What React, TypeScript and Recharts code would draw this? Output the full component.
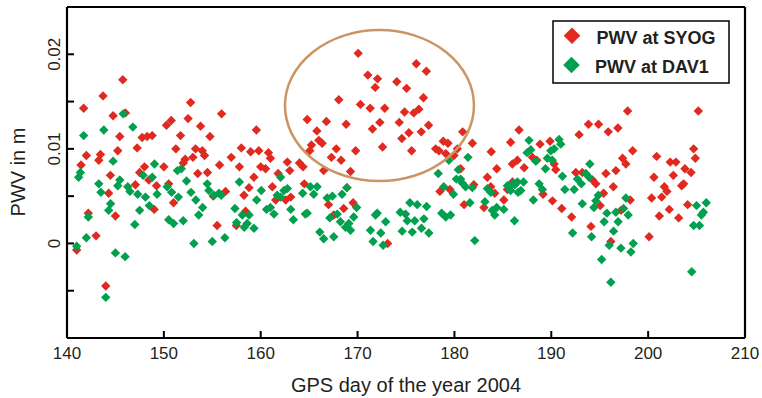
import React from 'react';
import {
  ScatterChart,
  Scatter,
  XAxis,
  YAxis,
  ReferenceLine,
  ReferenceDot,
  Customized,
} from 'recharts';

// [GPS day, PWV in m]
const SYOG_POINTS: [number, number][] = [
  [141.0, -0.0007], [142.2, 0.0032], [143.0, 0.0008], [144.0, -0.0045], [145.0, 0.0029],
  [144.3, 0.0053], [149.0, 0.0036], [151.0, 0.0043], [155.1, 0.005], [155.5, 0.0019],
  [145.76, 0.0173], [143.72, 0.0156], [141.72, 0.0143], [144.76, 0.0135], [146.03, 0.0138],
  [145.45, 0.0113], [147.76, 0.0112], [148.27, 0.0113], [148.79, 0.0114], [147.24, 0.0101],
  [145.24, 0.0098], [142.0, 0.0093], [143.45, 0.0094], [143.28, 0.0088], [141.45, 0.0083],
  [144.48, 0.0072], [148.0, 0.0081], [147.5, 0.0075], [150.27, 0.0125], [150.76, 0.013],
  [152.76, 0.0149], [152.5, 0.0132], [153.79, 0.0124], [151.72, 0.0114], [154.76, 0.0113],
  [151.24, 0.01], [153.27, 0.01], [153.96, 0.0098], [154.2, 0.0093], [153.0, 0.0091],
  [152.2, 0.0089], [152.0, 0.0085], [150.0, 0.0081], [153.5, 0.0074], [154.5, 0.0075],
  [155.75, 0.0083], [155.96, 0.0137], [156.96, 0.0091], [157.8, 0.0081], [158.0, 0.0101],
  [158.96, 0.0097], [159.8, 0.0098], [159.55, 0.012], [160.8, 0.0096], [161.0, 0.009],
  [160.0, 0.0081], [160.5, 0.0079], [159.3, 0.007], [161.8, 0.0074], [162.75, 0.0086],
  [163.0, 0.0077], [147.06, 0.0062], [148.45, 0.0067], [149.24, 0.0061], [150.5, 0.0063],
  [156.37, 0.0055], [158.27, 0.0051], [158.79, 0.0059], [157.48, 0.0019], [158.44, 0.0034],
  [161.2, 0.006], [163.1, 0.0049], [161.55, 0.0046], [162.58, 0.0046],
  [170.06, 0.0201], [176.06, 0.019], [177.1, 0.0182], [171.06, 0.0178], [172.06, 0.0174],
  [171.82, 0.0165], [174.05, 0.0171], [175.06, 0.0164], [168.06, 0.0152], [176.8, 0.0154],
  [170.3, 0.0147], [171.3, 0.0143], [172.8, 0.0143], [174.85, 0.0139], [175.8, 0.0138],
  [176.33, 0.0142], [164.8, 0.0131], [166.78, 0.0129], [168.82, 0.0126], [172.3, 0.0128],
  [174.3, 0.0128], [171.54, 0.0121], [177.33, 0.0125], [165.8, 0.0119], [175.3, 0.0117],
  [176.57, 0.0118], [174.57, 0.0111], [180.85, 0.0118], [166.0, 0.0109], [166.34, 0.0106],
  [165.24, 0.0104], [165.06, 0.0098], [167.8, 0.01], [169.8, 0.0098], [172.58, 0.0102],
  [175.58, 0.0098], [167.3, 0.0091], [168.3, 0.0088], [164.0, 0.0085], [164.37, 0.0081],
  [166.5, 0.0077], [169.27, 0.0076], [178.06, 0.01], [178.4, 0.0098], [178.85, 0.0108],
  [179.33, 0.0106], [179.1, 0.0095], [179.95, 0.0093], [180.3, 0.01], [181.85, 0.0106],
  [180.64, 0.0079], [183.8, 0.0097], [185.8, 0.0107], [186.67, 0.012], [184.37, 0.0079],
  [185.98, 0.0084], [183.4, 0.007],
  [164.5, 0.0063], [168.9, 0.0059], [167.0, 0.0041], [168.57, 0.0037], [169.54, 0.0043],
  [167.54, 0.003], [173.1, 0.0], [178.5, 0.0055], [179.53, 0.0057], [182.0, 0.0062],
  [181.0, 0.0041], [183.05, 0.0038], [183.75, 0.006], [184.16, 0.0053], [185.1, 0.0046],
  [185.47, 0.0057], [186.0, 0.0065],
  [197.88, 0.014], [205.18, 0.014], [193.84, 0.0126], [194.88, 0.0126], [195.88, 0.0118],
  [196.88, 0.0122], [192.87, 0.0115], [188.84, 0.0105], [189.87, 0.0108], [198.4, 0.0098],
  [204.7, 0.01], [204.87, 0.009], [200.88, 0.0092], [202.28, 0.0086], [202.87, 0.0086],
  [197.36, 0.009], [197.7, 0.0084], [195.64, 0.0074], [196.67, 0.0077], [203.8, 0.0079],
  [204.43, 0.0075], [200.6, 0.007], [202.6, 0.0072], [186.5, 0.0088], [187.2, 0.008],
  [188.05, 0.0091], [188.5, 0.0088], [190.46, 0.0078], [190.3, 0.0084], [192.53, 0.0075],
  [193.2, 0.0075],
  [189.15, 0.0052], [190.12, 0.0045], [191.08, 0.0037], [192.1, 0.0028], [194.1, 0.0018],
  [195.05, 0.004], [195.4, 0.0053], [196.4, 0.006], [198.15, 0.0046], [197.2, 0.0035],
  [196.15, 0.0002], [194.26, 0.0067], [194.6, 0.0063], [201.67, 0.006], [201.94, 0.0055],
  [203.46, 0.0061], [203.67, 0.0063], [200.36, 0.0048], [201.4, 0.0049], [204.08, 0.0041],
  [202.18, 0.0036], [201.15, 0.0029], [203.15, 0.0027], [200.1, 0.0007],
];

const DAV1_POINTS: [number, number][] = [
  [141.0, -0.0003], [142.0, 0.0006], [142.2, 0.0028], [144.0, -0.0057], [145.0, -0.001],
  [146.0, -0.0014], [144.3, 0.0035], [144.5, 0.0042], [143.5, 0.0054], [147.0, 0.002],
  [147.5, 0.0035], [148.5, 0.004], [148.1, 0.0049], [149.3, 0.0052], [147.3, 0.0052],
  [146.5, 0.0055], [150.5, 0.0025], [151.0, 0.0021], [152.0, 0.0024], [151.5, 0.0049],
  [150.8, 0.0054], [153.1, 0.0], [153.3, 0.0046], [153.6, 0.003], [154.0, 0.0038],
  [152.8, 0.0054], [155.0, 0.0002], [156.3, 0.0006],
  [145.8, 0.0137], [141.72, 0.0114], [143.8, 0.012], [146.8, 0.0123], [144.76, 0.0087],
  [149.03, 0.0084], [151.4, 0.0077], [151.8, 0.0079], [147.86, 0.0072], [162.05, 0.007],
  [141.38, 0.0075], [141.2, 0.007], [143.28, 0.0063], [145.45, 0.0067], [145.24, 0.0061],
  [146.27, 0.006], [148.8, 0.007], [150.34, 0.006], [152.34, 0.0066], [154.48, 0.0063],
  [154.65, 0.0056], [155.17, 0.0051], [155.69, 0.0053], [155.93, 0.0051], [157.8, 0.0065],
  [157.34, 0.0037], [157.51, 0.0022], [158.1, 0.003], [158.6, 0.0021], [159.3, 0.0016],
  [158.8, 0.003], [158.3, 0.0017], [159.58, 0.0046], [160.06, 0.0056], [160.6, 0.0036],
  [161.0, 0.0038], [161.37, 0.0031], [162.4, 0.0056], [162.75, 0.0058], [162.06, 0.0049],
  [161.7, 0.0051], [163.1, 0.0036], [163.37, 0.0025],
  [179.43, 0.0088], [181.4, 0.0091], [178.33, 0.0074], [180.4, 0.0078], [180.2, 0.0068],
  [180.64, 0.0068],
  [164.33, 0.0053], [165.13, 0.006], [165.82, 0.006], [165.47, 0.0052], [164.6, 0.0031],
  [164.8, 0.0032], [166.86, 0.0048], [167.4, 0.005], [168.4, 0.0052], [168.9, 0.0059],
  [167.13, 0.0027], [167.9, 0.0031], [168.23, 0.0023], [168.75, 0.0017], [169.27, 0.0014],
  [169.6, 0.0028], [169.9, 0.0038], [169.1, 0.0021], [166.1, 0.0012], [166.5, 0.0005],
  [167.54, 0.0007], [172.03, 0.0032], [171.85, 0.003], [172.9, 0.0023], [171.33, 0.0014],
  [172.4, 0.0011], [171.6, 0.0002], [172.64, -0.0002], [174.4, 0.0033], [174.95, 0.0031],
  [175.13, 0.0024], [175.9, 0.0024], [176.85, 0.0026], [175.4, 0.0043], [176.16, 0.0041],
  [177.13, 0.0039], [174.6, 0.0013], [175.64, 0.0012], [176.6, 0.0016], [177.36, 0.0011],
  [178.68, 0.0032], [179.1, 0.0028], [179.6, 0.003], [178.9, 0.006], [179.9, 0.0052],
  [182.1, 0.0003], [180.8, 0.0064], [181.15, 0.006], [181.85, 0.0059], [181.6, 0.0043],
  [183.15, 0.0044], [183.4, 0.0058], [183.75, 0.0054], [183.9, 0.0035], [184.37, 0.0038],
  [184.16, 0.003], [185.1, 0.0036], [185.47, 0.0061], [186.0, 0.0063], [186.5, 0.0065],
  [186.57, 0.0054], [185.8, 0.0056], [186.2, 0.0024],
  [187.7, 0.0109], [190.8, 0.011], [190.98, 0.0105], [190.3, 0.01], [189.95, 0.0098],
  [187.5, 0.0096], [187.88, 0.0099], [188.4, 0.0087], [189.6, 0.009], [190.1, 0.0088],
  [189.4, 0.0079], [193.98, 0.0084], [191.15, 0.0071], [192.7, 0.0068], [193.57, 0.0074],
  [193.9, 0.007],
  [188.74, 0.0063], [189.08, 0.0057], [186.85, 0.0056], [187.13, 0.0065], [186.23, 0.0062],
  [188.15, 0.0046], [193.1, 0.0063], [192.36, 0.0057], [191.4, 0.0057], [193.2, 0.0042],
  [192.2, 0.0011], [194.86, 0.0051], [194.6, 0.0045], [194.4, 0.0038], [197.7, 0.0048],
  [197.46, 0.0037], [197.94, 0.003], [196.67, 0.0033], [195.74, 0.0032], [195.46, 0.0023],
  [196.9, 0.0023], [196.43, 0.0013], [194.16, 0.0007], [195.98, -0.0002], [197.19, -0.0005],
  [198.22, -0.0009], [198.46, 0.0], [195.2, -0.0017], [196.15, -0.0041],
  [205.0, 0.004], [206.0, 0.0043], [205.7, 0.0033], [205.5, 0.003], [204.7, 0.0019],
  [205.3, 0.0019], [204.5, -0.003],
];

const X_TICKS = [140, 150, 160, 170, 180, 190, 200, 210];
const Y_TICKS = [-0.01, -0.005, 0, 0.005, 0.01, 0.015, 0.02, 0.025];
const Y_TICK_LABELS: Record<string, string> = { '0': '0', '0.01': '0.01', '0.02': '0.02' };
const SERIES_NAMES = ['PWV at SYOG', 'PWV at DAV1'];
const X_TITLE = 'GPS day of the year 2004';
const Y_TITLE = 'PWV in m';
const HIGHLIGHT_CENTER = { day: 172.26, pwv: 0.01458 };

const RED = '#E0291F';
const GREEN = '#00A04F';
const FONT = 'Arial, "Liberation Sans", sans-serif';
const TEXT = '#231F20';

const syogData = SYOG_POINTS.map(([x, y]) => ({ x, y }));
const dav1Data = DAV1_POINTS.map(([x, y]) => ({ x, y }));

const Diamond = (props: any) => {
  const { cx, cy, fill } = props;
  const r = 4.7;
  return (
    <polygon
      points={`${cx},${cy - r} ${cx + r},${cy} ${cx},${cy + r} ${cx - r},${cy}`}
      fill={fill}
    />
  );
};

const YTick = (props: any) => {
  const { x, y, payload } = props;
  const key = String(Math.round(payload.value * 1000) / 1000);
  const label = Y_TICK_LABELS[key] ?? '';
  return (
    <text
      x={x}
      y={y}
      transform={`rotate(-90 ${x} ${y})`}
      textAnchor="middle"
      fontSize={17}
      fontFamily={FONT}
      fill={TEXT}
    >
      {label}
    </text>
  );
};

const Overlay = () => (
  <g>
    <text x={406} y={392} textAnchor="middle" fontSize={20} fontFamily={FONT} fill={TEXT}>
      {X_TITLE}
    </text>
    <text
      x={25}
      y={172}
      transform="rotate(-90 25 172)"
      textAnchor="middle"
      fontSize={20}
      fontFamily={FONT}
      fill={TEXT}
    >
      {Y_TITLE}
    </text>
    <rect x={553} y={21} width={176} height={62} fill="#fff" stroke="#000" strokeWidth={1.5} />
    <polygon points="572,27.5 580.3,35.8 572,44 563.7,35.8" fill={RED} />
    <text x={596.5} y={44.3} fontSize={18} fontWeight="bold" fontFamily={FONT} fill={TEXT}>
      {SERIES_NAMES[0]}
    </text>
    <polygon points="571.5,56.7 579.8,65 571.5,73.3 563.2,65" fill={GREEN} />
    <text x={595} y={72.7} fontSize={18} fontWeight="bold" fontFamily={FONT} fill={TEXT}>
      {SERIES_NAMES[1]}
    </text>
  </g>
);

const tickLineStyle = { stroke: '#000', strokeWidth: 2 };
const axisLineStyle = { stroke: '#000', strokeWidth: 2.2 };

export default function App() {
  return (
    <div style={{ position: 'absolute', left: 0, top: 0 }}>
      <ScatterChart
        width={762}
        height={398}
        margin={{ top: 6, right: 17, bottom: 30, left: 27 }}
      >
        <XAxis
          xAxisId="bottom"
          dataKey="x"
          type="number"
          domain={[140, 210]}
          ticks={X_TICKS}
          interval={0}
          height={30}
          tickSize={-7}
          tickMargin={16}
          stroke="#000"
          axisLine={axisLineStyle}
          tickLine={tickLineStyle}
          tick={{ fontSize: 17, fontFamily: FONT, fill: TEXT }}
        />
        <XAxis
          xAxisId="top"
          orientation="top"
          type="number"
          domain={[140, 210]}
          ticks={X_TICKS}
          interval={0}
          height={1}
          tickSize={-7}
          tickFormatter={() => ''}
          stroke="#000"
          axisLine={axisLineStyle}
          tickLine={tickLineStyle}
        />
        <YAxis
          dataKey="y"
          type="number"
          domain={[-0.01, 0.025]}
          ticks={Y_TICKS}
          interval={0}
          width={40}
          tickSize={-7}
          tickMargin={14}
          stroke="#000"
          axisLine={axisLineStyle}
          tickLine={tickLineStyle}
          tick={<YTick />}
        />
        <ReferenceLine xAxisId="bottom" x={210} stroke="#000" strokeWidth={2.2} />
        <Scatter
          xAxisId="bottom"
          name={SERIES_NAMES[0]}
          data={syogData}
          fill={RED}
          shape={<Diamond />}
          isAnimationActive={false}
        />
        <Scatter
          xAxisId="bottom"
          name={SERIES_NAMES[1]}
          data={dav1Data}
          fill={GREEN}
          shape={<Diamond />}
          isAnimationActive={false}
        />
        <ReferenceDot
          xAxisId="bottom"
          x={HIGHLIGHT_CENTER.day}
          y={HIGHLIGHT_CENTER.pwv}
          shape={(p: any) => (
            <ellipse cx={p.cx} cy={p.cy} rx={94.5} ry={75.5} fill="none" stroke="#CC9462" strokeWidth={2.5} />
          )}
        />
        <Customized component={Overlay} />
      </ScatterChart>
    </div>
  );
}
